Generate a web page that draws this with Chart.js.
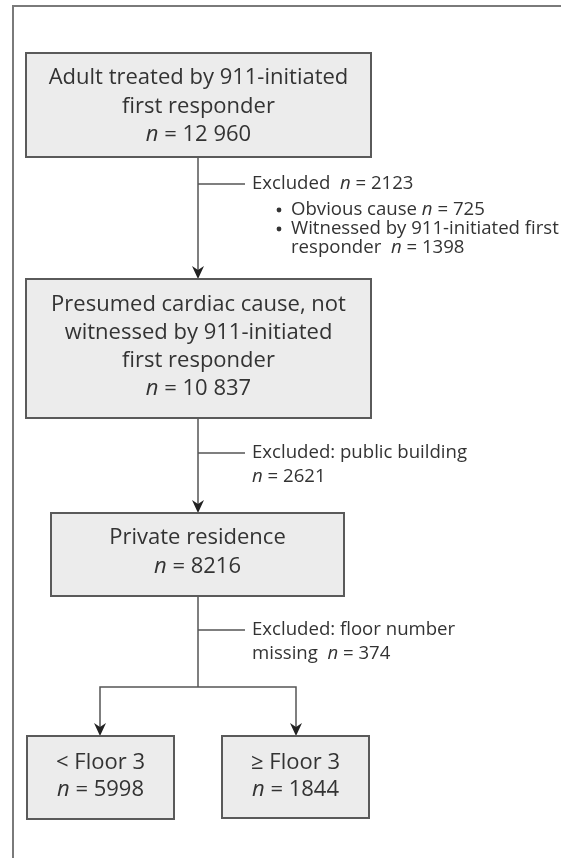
<!DOCTYPE html>
<html>
<head>
<meta charset="utf-8">
<script src="https://cdn.jsdelivr.net/npm/chart.js@4"></script>
<style>
  html, body { margin: 0; padding: 0; background: #fff; }
  #flow { display: block; }
</style>
</head>
<body>
<canvas id="flow" width="561" height="858"></canvas>
<script>
// Flow chart values
const boxLabels = [
	["Adult treated by 911-initiated", "first responder"],
	["Presumed cardiac cause, not", "witnessed by 911-initiated", "first responder"],
	["Private residence"],
	["< Floor 3"],
	["\u2265 Floor 3"]
];
const boxCounts = ["12 960", "10 837", "8216", "5998", "1844"];

const exclTitles = ["Excluded", "Excluded: public building", "Excluded: floor number"];
const exclCounts = ["2123", "2621", "374"];
const exclBullets = [["Obvious cause", "725"], ["Witnessed by 911-initiated first", "responder", "1398"]];

// layout in scale units (x: 0-561, y: 0-858 top down)
const boxLayout = [
	{x1: 26, x2: 371, y1: 53, y2: 157, first: 78, step: 28.5},
	{x1: 26, x2: 371, y1: 279, y2: 418, first: 305, step: 27.8},
	{x1: 51, x2: 344, y1: 513, y2: 596, first: 538, step: 29},
	{x1: 27, x2: 174, y1: 736, y2: 819, first: 763, step: 27},
	{x1: 222, x2: 369, y1: 736, y2: 818, first: 763, step: 27}
];
const spineX = 198;
const branchY = [184, 453, 630];
const branchEnd = 245;
const textX = 252;
const splitY = 687;
const splitX = [100, 296];

const textColor = "#333";
const lineColor = "#555";
const boxFill = "#ececec";
const boxFont = "Open Sans";
const boxSize = 22;
const noteSize = 18.6;

// draw one line of text, with "n" set in italics
const drawRich = (ctx, str, x, y, size, align) => {
	const parts = str.split(/(\bn\b)/).filter(p => p.length);
	const fontFor = p => (p === "n" ? "italic " : "") + size + "px '" + boxFont + "'";
	let total = 0;
	for (let p of parts) {
		ctx.font = fontFor(p);
		total += ctx.measureText(p).width;
	}
	let cx = align === "center" ? x - total / 2 : x;
	ctx.textAlign = "left";
	ctx.textBaseline = "middle";
	ctx.fillStyle = textColor;
	for (let p of parts) {
		ctx.font = fontFor(p);
		ctx.fillText(p, cx, y);
		cx += ctx.measureText(p).width;
	}
};

const arrow = (ctx, x, y) => {
	ctx.beginPath();
	ctx.moveTo(x, y);
	ctx.lineTo(x - 6, y - 13);
	ctx.lineTo(x, y - 9);
	ctx.lineTo(x + 6, y - 13);
	ctx.closePath();
	ctx.fillStyle = "#222";
	ctx.fill();
};

const flowPlugin = {
	id: "flow",
	afterDraw(chart) {
		const ctx = chart.ctx;
		const sx = chart.scales.x, sy = chart.scales.y;
		const X = v => sx.getPixelForValue(v);
		const Y = v => sy.getPixelForValue(v);
		ctx.save();

		// outer frame
		ctx.strokeStyle = "#7a7a7a";
		ctx.lineWidth = 2;
		ctx.beginPath();
		ctx.moveTo(X(13), Y(858));
		ctx.lineTo(X(13), Y(6));
		ctx.lineTo(X(561), Y(6));
		ctx.stroke();

		// connectors
		ctx.strokeStyle = lineColor;
		ctx.lineWidth = 1.5;
		ctx.beginPath();
		ctx.moveTo(X(spineX), Y(boxLayout[0].y2));
		ctx.lineTo(X(spineX), Y(boxLayout[1].y1 - 6));
		ctx.moveTo(X(spineX), Y(boxLayout[1].y2));
		ctx.lineTo(X(spineX), Y(boxLayout[2].y1 - 6));
		ctx.moveTo(X(spineX), Y(boxLayout[2].y2));
		ctx.lineTo(X(spineX), Y(splitY));
		ctx.moveTo(X(splitX[0]), Y(boxLayout[3].y1 - 6));
		ctx.lineTo(X(splitX[0]), Y(splitY));
		ctx.lineTo(X(splitX[1]), Y(splitY));
		ctx.lineTo(X(splitX[1]), Y(boxLayout[4].y1 - 6));
		for (let by of branchY) {
			ctx.moveTo(X(spineX), Y(by));
			ctx.lineTo(X(branchEnd), Y(by));
		}
		ctx.stroke();
		arrow(ctx, X(spineX), Y(boxLayout[1].y1));
		arrow(ctx, X(spineX), Y(boxLayout[2].y1));
		arrow(ctx, X(splitX[0]), Y(boxLayout[3].y1));
		arrow(ctx, X(splitX[1]), Y(boxLayout[4].y1));

		// boxes
		boxLayout.forEach((b, i) => {
			ctx.fillStyle = boxFill;
			ctx.fillRect(X(b.x1), Y(b.y1), X(b.x2) - X(b.x1), Y(b.y2) - Y(b.y1));
			ctx.strokeStyle = "#5a5a5a";
			ctx.lineWidth = 2;
			ctx.strokeRect(X(b.x1), Y(b.y1), X(b.x2) - X(b.x1), Y(b.y2) - Y(b.y1));
			const lines = boxLabels[i].concat(["n = " + boxCounts[i]]);
			const cx = X((b.x1 + b.x2) / 2);
			lines.forEach((l, k) => drawRich(ctx, l, cx, Y(b.first + k * b.step), boxSize, "center"));
		});

		// exclusions
		const s = noteSize;
		drawRich(ctx, exclTitles[0] + "  n = " + exclCounts[0], X(textX), Y(branchY[0]), s, "left");
		ctx.fillStyle = textColor;
		ctx.beginPath();
		ctx.arc(X(279), Y(210), 2.4, 0, Math.PI * 2);
		ctx.fill();
		ctx.beginPath();
		ctx.arc(X(279), Y(229), 2.4, 0, Math.PI * 2);
		ctx.fill();
		drawRich(ctx, exclBullets[0][0] + " n = " + exclBullets[0][1], X(291), Y(210), s, "left");
		drawRich(ctx, exclBullets[1][0], X(291), Y(229), s, "left");
		drawRich(ctx, exclBullets[1][1] + "  n = " + exclBullets[1][2], X(291), Y(248), s, "left");

		drawRich(ctx, exclTitles[1], X(textX), Y(branchY[1]), s, "left");
		drawRich(ctx, "n = " + exclCounts[1], X(textX), Y(branchY[1] + 24), s, "left");
		drawRich(ctx, exclTitles[2], X(textX), Y(branchY[2]), s, "left");
		drawRich(ctx, "missing  n = " + exclCounts[2], X(textX), Y(branchY[2] + 24), s, "left");

		ctx.restore();
	}
};

new Chart(document.getElementById("flow"), {
	type: "scatter",
	data: {
		datasets: [{
			data: boxLayout.map(b => ({x: (b.x1 + b.x2) / 2, y: (b.y1 + b.y2) / 2})),
			pointRadius: 0
		}]
	},
	options: {
		responsive: false,
		animation: false,
		layout: {padding: 0},
		plugins: {legend: {display: false}, tooltip: {enabled: false}},
		scales: {
			x: {type: "linear", min: 0, max: 561, display: false},
			y: {type: "linear", min: 0, max: 858, reverse: true, display: false}
		}
	},
	plugins: [flowPlugin]
});
</script>
</body>
</html>
